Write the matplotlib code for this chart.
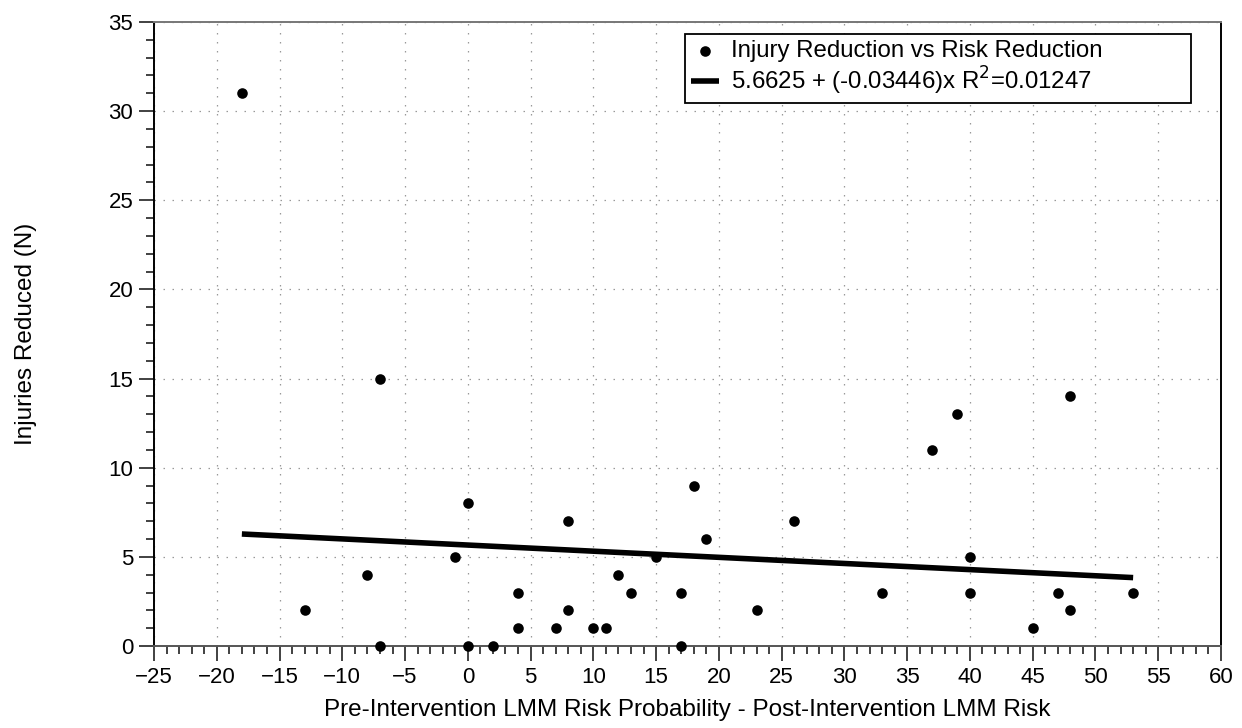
import matplotlib
matplotlib.use("Agg")
import matplotlib.pyplot as plt
from matplotlib.ticker import MultipleLocator
import numpy as np

plt.rcParams['font.family'] = ['Liberation Sans', 'DejaVu Sans']

risk_reduction = [-18, -13, -8, -7, -7, -1, 0, 0, 2, 4, 4, 7, 8, 8, 10, 11, 12, 13,
                  15, 17, 17, 18, 19, 23, 26, 33, 37, 39, 40, 40, 45, 47, 48, 48, 53]
injuries_reduced = [31, 2, 4, 15, 0, 5, 8, 0, 0, 3, 1, 1, 7, 2, 1, 1, 4, 3,
                    5, 3, 0, 9, 6, 2, 7, 3, 11, 13, 5, 3, 1, 3, 14, 2, 3]
intercept = 5.6625
slope = -0.03446
r2 = 0.01247

fig = plt.figure(figsize=(12.42, 7.28), dpi=100)
ax = fig.add_axes([154 / 1242, 82 / 728, 1067 / 1242, 624 / 728])

ax.scatter(risk_reduction, injuries_reduced, s=58, color='black', zorder=3,
           linewidths=0, clip_on=False, label='Injury Reduction vs Risk Reduction')
xfit = np.array([min(risk_reduction), max(risk_reduction)])
ax.plot(xfit, intercept + slope * xfit, color='black', lw=4, zorder=2,
        solid_capstyle='butt',
        label=f'{intercept} + ({slope})x R$^2$={r2}')

ax.set_xlim(-25, 60)
ax.set_ylim(0, 35)
ax.xaxis.set_major_locator(MultipleLocator(5))
ax.xaxis.set_minor_locator(MultipleLocator(1))
ax.yaxis.set_major_locator(MultipleLocator(5))
ax.yaxis.set_minor_locator(MultipleLocator(1))
ax.tick_params(which='major', direction='out', length=11, width=1.3, color='#333333',
               labelsize=16, pad=4)
ax.tick_params(which='minor', direction='out', length=5.5, width=1.3, color='#333333')
ax.grid(True, which='major', linestyle=(0, (1.2, 6)), color='#999999', lw=0.9)

ax.spines['left'].set_color('black')
ax.spines['right'].set_color('black')
ax.spines['top'].set_color('#777777')
ax.spines['bottom'].set_color('#555555')
for s in ax.spines.values():
    s.set_linewidth(1.4)

ax.set_xlabel('Pre-Intervention LMM Risk Probability - Post-Intervention LMM Risk',
              fontsize=17.5)
ax.set_ylabel('Injuries Reduced (N)', fontsize=17.5)
ax.xaxis.set_label_coords(0.5, -0.085)
ax.yaxis.set_label_coords(-0.1097, 0.5)

leg = ax.legend(loc='upper left', bbox_to_anchor=(0.4977, 0.8766, 0.4742, 0.1042),
                mode='expand', borderaxespad=0, fontsize=17.3,
                frameon=True, fancybox=False, edgecolor='black', framealpha=1,
                handlelength=1.15, handletextpad=0.5, borderpad=0.25,
                labelspacing=0.12, markerscale=1.0)
leg.get_frame().set_linewidth(1.3)

fig.savefig('out.png', dpi=100)
